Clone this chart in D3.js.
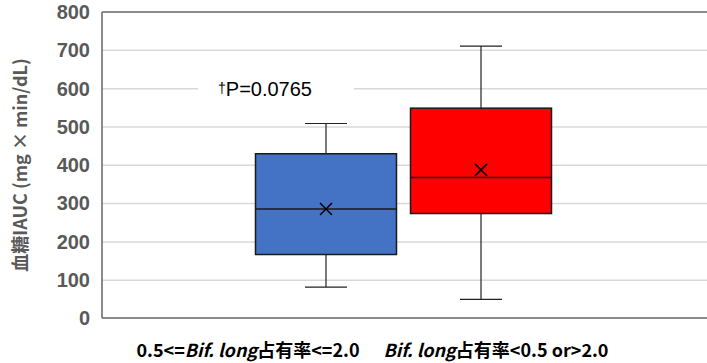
<!DOCTYPE html>
<html>
<head>
<meta charset="utf-8">
<script src="https://cdn.jsdelivr.net/npm/d3@7"></script>
<style>
  body { margin: 0; background: #fff; }
  svg { display: block; }
</style>
</head>
<body>
<div id="chart"></div>
<script>
const width = 707;
const height = 363;
const margin = {top: 12, right: 0, bottom: 45, left: 102};

// data
const groups = ["0.5<=Bif. long占有率<=2.0", "Bif. long占有率<0.5 or>2.0"];
const colors = ["#4472C4", "#FF0000"];
const whiskerLow = [82, 50];
const q1 = [167, 274];
const median = [286, 368];
const q3 = [430, 549];
const whiskerHigh = [509, 711];
const mean = [286, 388];
const yTicks = [0, 100, 200, 300, 400, 500, 600, 700, 800];
const pLabel = "P=0.0765";

const innerW = width - margin.left - margin.right;
const innerH = height - margin.top - margin.bottom;

const svg = d3.select("#chart")
  .append("svg")
  .attr("width", width)
  .attr("height", height);

const g = svg.append("g")
  .attr("transform", `translate(${margin.left},${margin.top})`);

const y = d3.scaleLinear()
  .domain([0, 800])
  .range([innerH + 0.5, 0]);

const x = d3.scalePoint()
  .domain(groups)
  .range([0, 603])
  .padding(1.445);

const boxW = 141;
const capW = 42;

// gridlines
g.selectAll(".grid")
  .data(yTicks.filter(d => d > 0 && d < 800))
  .join("line")
  .attr("x1", 0)
  .attr("x2", innerW + 5)
  .attr("y1", d => y(d))
  .attr("y2", d => y(d))
  .attr("stroke", "#d9d9d9")
  .attr("stroke-width", 1.5);

// white box behind the p-value label
g.append("rect")
  .attr("x", 96)
  .attr("y", y(600) - 12)
  .attr("width", 156)
  .attr("height", 24)
  .attr("fill", "#fff");

g.append("text")
  .attr("x", 116)
  .attr("y", y(600) + 7)
  .attr("font-family", "Liberation Sans, Arial, sans-serif")
  .attr("font-size", 20)
  .attr("fill", "#000")
  .call(t => {
    t.append("tspan").attr("font-size", 14).attr("dy", -3).text("†");
    t.append("tspan").attr("dy", 3).text(pLabel);
  });

// frame: top, left, bottom
g.append("line").attr("x1", 0).attr("x2", innerW + 5).attr("y1", 0).attr("y2", 0)
  .attr("stroke", "#666").attr("stroke-width", 1.5);
g.append("line").attr("x1", 0).attr("x2", innerW + 5).attr("y1", innerH).attr("y2", innerH)
  .attr("stroke", "#666").attr("stroke-width", 1.5);
g.append("line").attr("x1", 0).attr("x2", 0).attr("y1", 0).attr("y2", innerH)
  .attr("stroke", "#666").attr("stroke-width", 1.5);

// y axis labels
const yAxis = g.append("g")
  .call(d3.axisLeft(y).tickValues(yTicks).tickSize(0).tickPadding(12));
yAxis.select(".domain").remove();
yAxis.selectAll("text")
  .attr("font-family", "Liberation Sans, Arial, sans-serif")
  .attr("font-size", 20)
  .attr("font-weight", "bold")
  .attr("fill", "#595959");

svg.append("text")
  .attr("transform", `translate(27,165) rotate(-90)`)
  .attr("text-anchor", "middle")
  .attr("font-family", "'Noto Sans CJK JP', sans-serif")
  .attr("font-size", 18)
  .attr("font-weight", "bold")
  .attr("fill", "#595959")
  .text("血糖IAUC (mg × min/dL)");

// boxes
const boxes = g.selectAll(".box")
  .data(groups)
  .join("g")
  .attr("class", "box");

boxes.append("line")
  .attr("x1", d => x(d)).attr("x2", d => x(d))
  .attr("y1", (d, i) => y(whiskerHigh[i]))
  .attr("y2", (d, i) => y(whiskerLow[i]))
  .attr("stroke", "#222").attr("stroke-width", 1.2);

boxes.append("line")
  .attr("x1", d => x(d) - capW / 2).attr("x2", d => x(d) + capW / 2)
  .attr("y1", (d, i) => y(whiskerHigh[i])).attr("y2", (d, i) => y(whiskerHigh[i]))
  .attr("stroke", "#222").attr("stroke-width", 1.2);

boxes.append("line")
  .attr("x1", d => x(d) - capW / 2).attr("x2", d => x(d) + capW / 2)
  .attr("y1", (d, i) => y(whiskerLow[i])).attr("y2", (d, i) => y(whiskerLow[i]))
  .attr("stroke", "#222").attr("stroke-width", 1.2);

boxes.append("rect")
  .attr("x", d => x(d) - boxW / 2)
  .attr("width", boxW)
  .attr("y", (d, i) => y(q3[i]))
  .attr("height", (d, i) => y(q1[i]) - y(q3[i]))
  .attr("fill", (d, i) => colors[i])
  .attr("stroke", "#1a1a1a")
  .attr("stroke-width", 1.5);

boxes.append("line")
  .attr("x1", d => x(d) - boxW / 2).attr("x2", d => x(d) + boxW / 2)
  .attr("y1", (d, i) => y(median[i])).attr("y2", (d, i) => y(median[i]))
  .attr("stroke", "#1a1a1a").attr("stroke-width", 1.5);

boxes.append("path")
  .attr("d", (d, i) => {
    const cx = x(d), cy = y(mean[i]), s = 6;
    return `M${cx - s},${cy - s}L${cx + s},${cy + s}M${cx - s},${cy + s}L${cx + s},${cy - s}`;
  })
  .attr("stroke", "#000").attr("stroke-width", 1.5).attr("fill", "none");

// category labels
const labelX = [248, 496];
const catLabels = svg.selectAll(".cat")
  .data(groups)
  .join("text")
  .attr("class", "cat")
  .attr("x", (d, i) => labelX[i])
  .attr("y", 357)
  .attr("text-anchor", "middle")
  .attr("font-family", "'Noto Sans CJK JP', sans-serif")
  .attr("font-size", 18)
  .attr("font-weight", "bold")
  .attr("fill", "#000");

catLabels.each(function(d) {
  const t = d3.select(this);
  const m = d.match(/^(.*?)(Bif\. long)(.*)$/);
  if (m[1]) t.append("tspan").text(m[1]);
  t.append("tspan").attr("font-style", "italic").text(m[2]);
  t.append("tspan").text(m[3]);
});
</script>
</body>
</html>
